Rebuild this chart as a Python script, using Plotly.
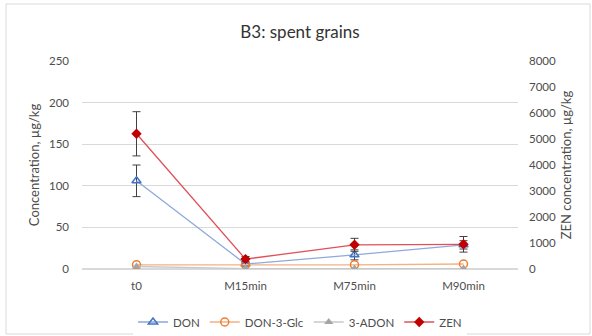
import plotly.graph_objects as go

categories = ["t0", "M15min", "M75min", "M90min"]
don = [106, 6, 17, 29]
don_err = [19, 2, 6, 5]
don3glc = [5, 5, 5, 6]
adon3 = [3, 0.5, 0.5, 0.5]
zen = [5200, 380, 930, 950]
zen_err = [850, 100, 250, 300]

left_ticks = [0, 50, 100, 150, 200, 250]
right_ticks = [0, 1000, 2000, 3000, 4000, 5000, 6000, 7000, 8000]

FONT = "Lato, Open Sans, sans-serif"
TXT = "#4d4d4d"
L, R, T, B = 82, 74, 61, 67
W, H = 592, 336
pw, ph = W - L - R, H - T - B

fig = go.Figure()
fig.add_trace(go.Scatter(
    x=categories, y=don, name="DON", mode="lines+markers",
    line=dict(color="#8EA9DB", width=1.3),
    marker=dict(symbol="triangle-up-open", size=8, color="#4472C4", line=dict(width=1.5)),
    error_y=dict(type="data", array=don_err, color="#404040", thickness=1, width=4)))
fig.add_trace(go.Scatter(
    x=categories, y=don3glc, name="DON-3-Glc", mode="lines+markers",
    line=dict(color="#F4B183", width=1.3),
    marker=dict(symbol="circle-open", size=8, color="#ED7D31", line=dict(width=1.5))))
fig.add_trace(go.Scatter(
    x=categories, y=adon3, name="3-ADON", mode="lines+markers",
    line=dict(color="#C9C9C9", width=1.3),
    marker=dict(symbol="triangle-up", size=8, color="#A5A5A5")))
fig.add_trace(go.Scatter(
    x=categories, y=zen, name="ZEN", mode="lines+markers", yaxis="y2",
    line=dict(color="#E0505A", width=1.3),
    marker=dict(symbol="diamond", size=8, color="#C00000"),
    error_y=dict(type="data", array=zen_err, color="#404040", thickness=1, width=4)))

fig.add_shape(type="rect", xref="paper", yref="paper",
              x0=(6 - L) / pw, x1=(590 - L) / pw,
              y0=(H - B - 334) / ph, y1=(H - B - 4) / ph,
              line=dict(color="#D9D9D9", width=1), layer="below")

fig.update_layout(
    width=W, height=H, margin=dict(l=L, r=R, t=T, b=B, autoexpand=False),
    paper_bgcolor="white", plot_bgcolor="white",
    font=dict(family=FONT, color=TXT, size=11),
    title=dict(text="B3: spent grains", x=0.5, xref="paper", y=1 - 32 / H, yanchor="middle",
               font=dict(size=17, color="#333333", family=FONT)),
    xaxis=dict(type="category", range=[-0.5, 3.5], showgrid=False, showline=False,
               ticks="", tickfont=dict(size=11.5, color=TXT), automargin=False,
               ticklabelstandoff=8),
    yaxis=dict(range=[0, 250], tickvals=left_ticks, showgrid=True, gridcolor="#D9D9D9",
               zeroline=True, zerolinecolor="#D9D9D9", showline=False, ticks="",
               tickfont=dict(size=11.5, color=TXT), automargin=False, ticklabelstandoff=12,
               title=dict(text="Concentration, µg/kg", font=dict(size=13, color=TXT), standoff=6)),
    yaxis2=dict(range=[0, 8000], tickvals=right_ticks, overlaying="y", side="right",
                showgrid=False, zeroline=False, showline=False, ticks="",
                tickfont=dict(size=11.5, color=TXT), automargin=False, ticklabelstandoff=10,
                title=dict(text="ZEN concentration, µg/kg", font=dict(size=13, color=TXT), standoff=6)),
    legend=dict(orientation="h", x=0.5, xanchor="center", yref="container",
                y=1 - 322 / H, yanchor="middle",
                font=dict(size=11.5, color=TXT), tracegroupgap=0),
    showlegend=True,
)

fig.write_html("out.html")
